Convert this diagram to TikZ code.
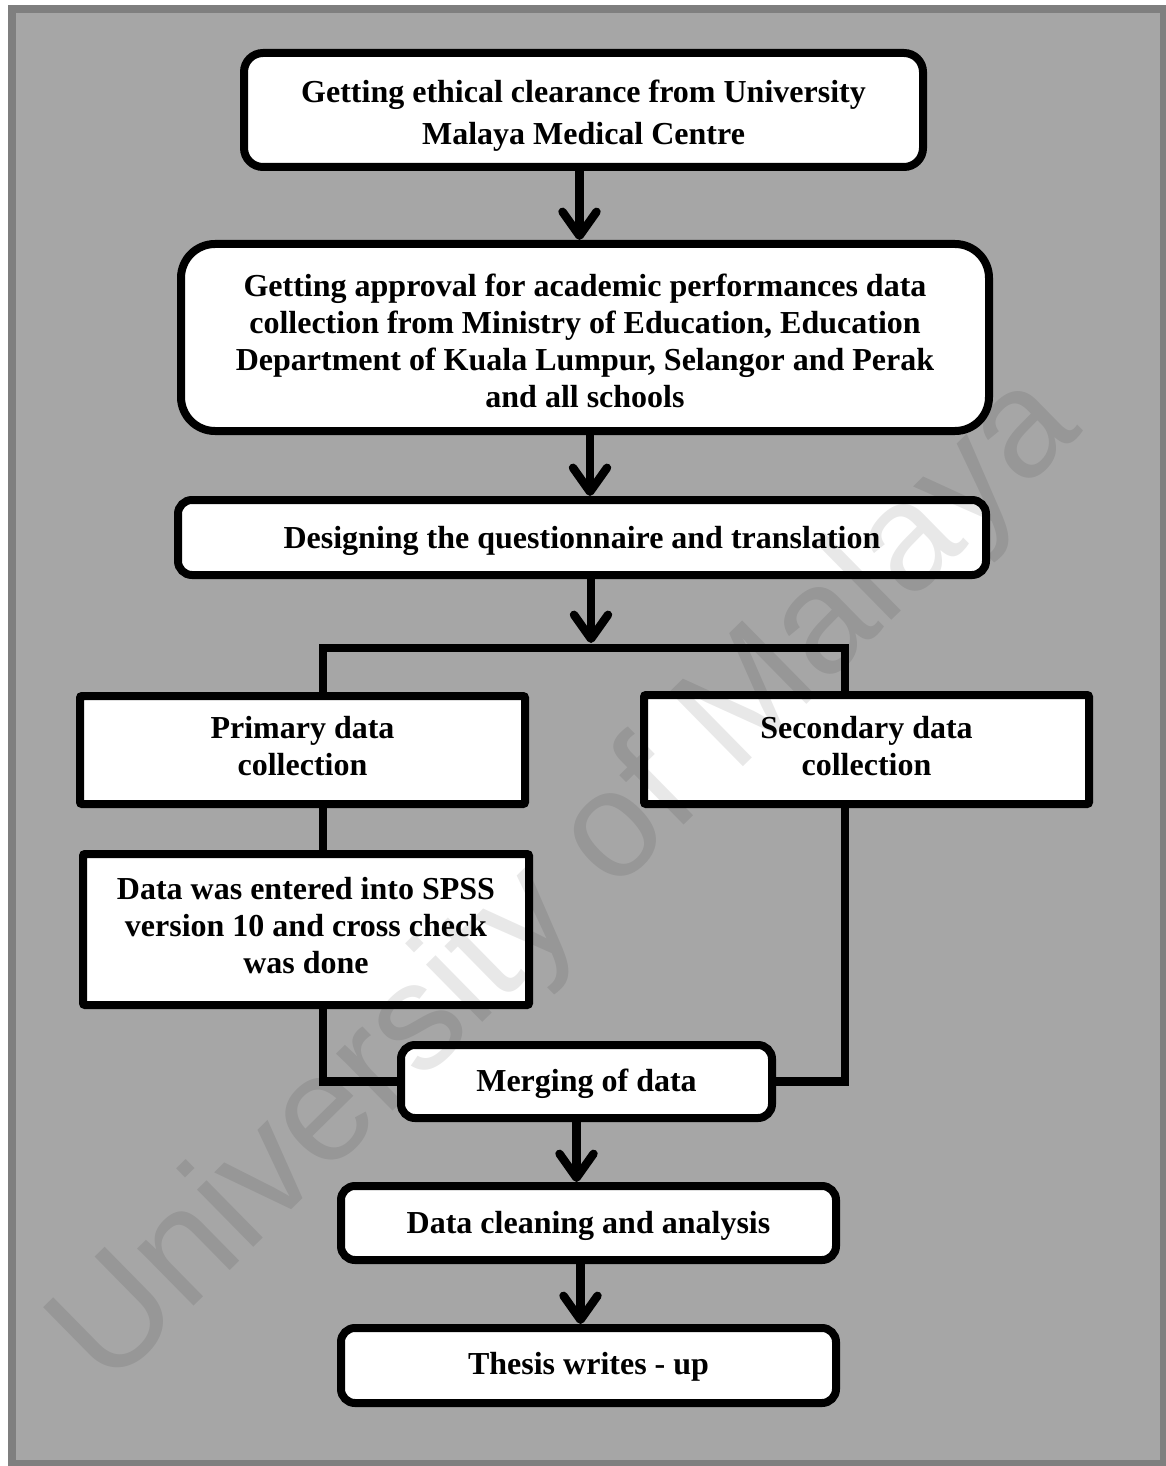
\documentclass[tikz,border=0pt]{standalone}
\usepackage{fontspec}
\setmainfont{Liberation Serif}
\newfontfamily\wmfont{Liberation Sans}
\usetikzlibrary{arrows.meta,calc}
\definecolor{bggray}{HTML}{A6A6A6}
\definecolor{framegray}{HTML}{7F7F7F}
\begin{document}
\begin{tikzpicture}[x=0.5pt,y=-0.5pt,
  box/.style={draw=black,line width=4pt,fill=white,inner sep=0pt},
  sqbox/.style={box,rounded corners=1pt},
  txt/.style={align=center,inner sep=0pt,font=\fontsize{16}{18.5}\selectfont\bfseries},
  conn/.style={line width=4.2pt,line join=miter},
  arr/.style={conn,-{Straight Barb[length=12pt,width=17pt,round]}}]
\useasboundingbox (0,0) rectangle (1166,1466);
\fill[white] (0,0) rectangle (1166,1466);
\draw[framegray,fill=bggray,line width=4pt] (12,9) rectangle (1164,1464);

% boxes
\node[box,rounded corners=9.5pt,minimum width=339.5pt,minimum height=57pt] (b1) at (583.5,110) {};
\node[box,rounded corners=17pt,minimum width=404pt,minimum height=93.5pt] (b2) at (585,337.5) {};
\node[box,rounded corners=7pt,minimum width=404pt,minimum height=37.5pt] (b3) at (582,537.5) {};
\node[sqbox,minimum width=222.5pt,minimum height=54pt] (prim) at (302.5,750) {};
\node[sqbox,minimum width=222.5pt,minimum height=54.5pt] (sec) at (866.5,749.5) {};
\node[sqbox,minimum width=223pt,minimum height=75.5pt] (spss) at (306,929.5) {};
\node[box,rounded corners=7pt,minimum width=185.5pt,minimum height=36.5pt] (merge) at (586.5,1081.5) {};
\node[box,rounded corners=7pt,minimum width=247.5pt,minimum height=37pt] (clean) at (588.5,1223) {};
\node[box,rounded corners=7pt,minimum width=247.5pt,minimum height=37.5pt] (thesis) at (588.5,1365.5) {};

% texts
\node[txt,font=\fontsize{16}{21}\selectfont\bfseries] (b1t) at (583.5,116)
  {Getting ethical clearance from University\\Malaya Medical Centre};
\node[txt] (b2t) at (585,340.5)
  {Getting approval for academic performances data\\collection from Ministry of Education, Education\\Department of Kuala Lumpur, Selangor and Perak\\and all schools};
\node[txt] (b3t) at (582,540.5) {Designing the questionnaire and translation};
\node[txt] (primt) at (302.5,746.5) {Primary data\\collection};
\node[txt] (sect) at (866.5,746.5) {Secondary data\\collection};
\node[txt] (spsst) at (306,925.5) {Data was entered into SPSS\\version 10 and cross check\\was done};
\node[txt] (merget) at (586.5,1083.5) {Merging of data};
\node[txt] (cleant) at (588.5,1226) {Data cleaning and analysis};
\node[txt] (thesist) at (588.5,1366.5) {Thesis writes - up};

% junction points
\coordinate (jl) at (323,648);
\coordinate (jr) at (845,648);
\coordinate (jm) at (591,643);

% connectors
\draw[arr] ([xshift=-2pt]b1.south) -- ([xshift=-2pt]b1.south |- b2.north);
\draw[arr] ([xshift=2.5pt]b2.south) -- ([xshift=2.5pt]b2.south |- b3.north);
\draw[arr] (b3.south -| jm) -- (jm);
\draw[conn] (prim.north -| jl) -- (jl) -- (jr) -- (sec.north -| jr);
\draw[conn] (prim.south -| jl) -- (spss.north -| jl);
\draw[conn] (spss.south -| jl) -- (jl |- merge.west) -- (merge.west);
\draw[conn] (sec.south -| jr) -- (jr |- merge.east) -- (merge.east);
\draw[arr] ([xshift=-5pt]merge.south) -- ([xshift=-5pt]merge.south |- clean.north);
\draw[arr] ([xshift=-4pt]clean.south) -- ([xshift=-4pt]clean.south |- thesis.north);

% watermark
\node[font=\wmfont\fontsize{76}{76}\selectfont,text=black,text opacity=0.09,
  rotate=44.5,anchor=base,inner sep=0pt] (wm) at (596,911) {University of Malaya};
\end{tikzpicture}
\end{document}
